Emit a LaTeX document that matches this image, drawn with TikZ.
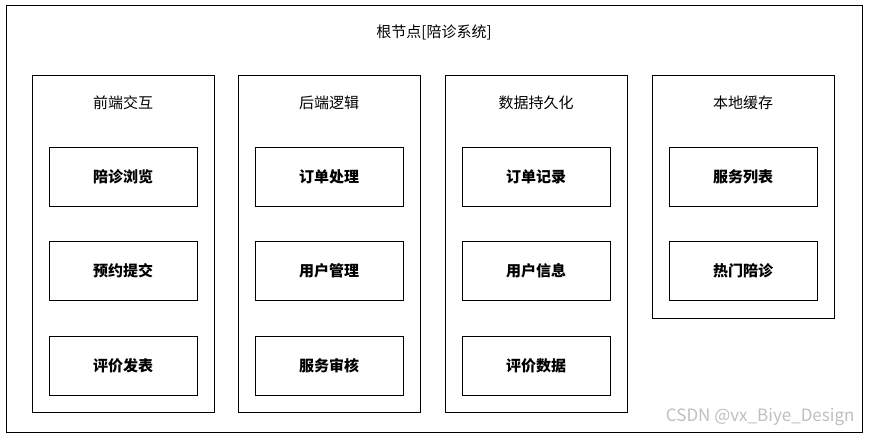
\documentclass[tikz,border=0pt]{standalone}
\usepackage{fontspec}
\setmainfont{Noto Sans CJK SC}
\begin{document}
\begin{tikzpicture}[x=1pt,y=-1pt,
  box/.style={draw=black,line width=1pt,inner sep=0pt},
  lab/.style={font=\fontsize{15}{18}\selectfont},
  item/.style={draw=black,line width=1pt,minimum width=148pt,minimum height=59pt,font=\fontsize{15}{18}\selectfont\bfseries}]
\useasboundingbox (0,0) rectangle (871,440);
\fill[white] (0,0) rectangle (871,440);
\draw[line width=1pt] (6,5) rectangle (862,432);
\node[lab] (root) at (434,32) {根节点[陪诊系统]};
\foreach \x/\t/\b in {32/前端交互/412, 238/后端逻辑/412, 445/数据持久化/412, 652/本地缓存/318}{
  \draw[line width=1pt] (\x,75) rectangle (\x+182,\b);
  \node[lab] at (\x+91,103) {\t};
}
\node[item] (a1) at (123,176.5) {陪诊浏览};
\node[item] (a2) at (123,270.5) {预约提交};
\node[item] (a3) at (123,365.5) {评价发表};
\node[item] (b1) at (329,176.5) {订单处理};
\node[item] (b2) at (329,270.5) {用户管理};
\node[item] (b3) at (329,365.5) {服务审核};
\node[item] (c1) at (536,176.5) {订单记录};
\node[item] (c2) at (536,270.5) {用户信息};
\node[item] (c3) at (536,365.5) {评价数据};
\node[item] (d1) at (743,176.5) {服务列表};
\node[item] (d2) at (743,270.5) {热门陪诊};
\node[font=\fontsize{17}{20}\selectfont,text=black!25,anchor=east] (wm) at (858,417) {CSDN @vx\_Biye\_Design};
\end{tikzpicture}
\end{document}
